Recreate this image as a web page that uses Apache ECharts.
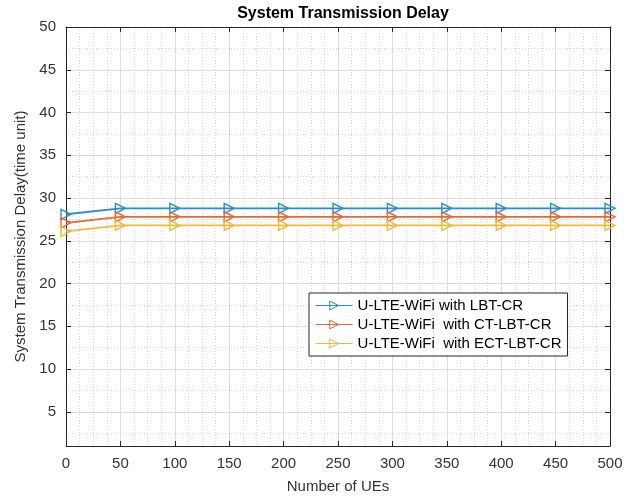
<!DOCTYPE html>
<html>
<head>
<meta charset="utf-8">
<script src="https://cdn.jsdelivr.net/npm/echarts@6/dist/echarts.min.js"></script>
<style>html,body{margin:0;padding:0;background:#fff;}#chart{width:636px;height:499px;}</style>
</head>
<body>
<div id="chart"></div>
<script>
const ues = [0, 50, 100, 150, 200, 250, 300, 350, 400, 450, 500];
const lbtCR = [28.1, 28.8, 28.8, 28.8, 28.8, 28.8, 28.8, 28.8, 28.8, 28.8, 28.8];
const ctLbtCR = [27.1, 27.8, 27.8, 27.8, 27.8, 27.8, 27.8, 27.8, 27.8, 27.8, 27.8];
const ectLbtCR = [26.1, 26.8, 26.8, 26.8, 26.8, 26.8, 26.8, 26.8, 26.8, 26.8, 26.8];
const yTicks = [5, 10, 15, 20, 25, 30, 35, 40, 45, 50];
const yMinorTicks = [2.5, 7.5, 12.5, 17.5, 22.5, 27.5, 32.5, 37.5, 42.5, 47.5];
const seriesNames = ['U-LTE-WiFi with LBT-CR', 'U-LTE-WiFi  with CT-LBT-CR', 'U-LTE-WiFi  with ECT-LBT-CR'];
const colors = ['#2f8ccb', '#e06a3a', '#edbb3a'];

const FONT = '"Liberation Sans", Arial, Helvetica, sans-serif';
const TRI = 'path://M0,0 L10,5 L0,10 Z';

function mk(name, vals, color) {
  return {
    name: name, type: 'line',
    data: ues.map((x, i) => [x, vals[i]]),
    symbol: TRI, symbolSize: [10, 10],
    lineStyle: { color: color, width: 1.8 },
    itemStyle: { color: 'rgba(255,255,255,0)', borderColor: color, borderWidth: 1.4 },
    color: color,
    emphasis: { disabled: true },
    z: 3
  };
}

const chart = echarts.init(document.getElementById('chart'), null, { renderer: 'canvas' });
const axisLineStyle = { color: '#262626', width: 1 };
const Y_MIN = 1, Y_MAX = 50;
chart.setOption({
  animation: false,
  backgroundColor: '#fff',
  title: {
    text: 'System Transmission Delay', left: 338, top: 1, textAlign: 'center',
    textStyle: { fontFamily: FONT, fontSize: 16, fontWeight: 'bold', color: '#000' }
  },
  legend: {
    orient: 'vertical', left: 309, top: 293,
    padding: [5, 6, 5, 6], itemGap: 4,
    itemWidth: 37, itemHeight: 11,
    backgroundColor: '#fff', borderColor: '#262626', borderWidth: 1,
    lineStyle: { width: 1.2 },
    itemStyle: { color: 'rgba(255,255,255,0)', borderWidth: 1 },
    textStyle: { fontFamily: FONT, fontSize: 15, color: '#000' },
    data: seriesNames
  },
  grid: { left: 66, right: 26, top: 27, bottom: 53, containLabel: false },
  xAxis: [{
    type: 'value', min: 0, max: 500, interval: 50,
    name: 'Number of UEs', nameLocation: 'middle', nameGap: 33,
    nameTextStyle: { fontFamily: FONT, fontSize: 15, color: '#333' },
    axisLine: { show: true, onZero: false, lineStyle: axisLineStyle },
    axisTick: { show: true, inside: true, length: 5, lineStyle: axisLineStyle },
    axisLabel: { fontFamily: FONT, fontSize: 15, color: '#333', margin: 10 },
    splitLine: { show: true, lineStyle: { color: '#dedede', width: 1 } },
    minorTick: { show: false, splitNumber: 4 },
    minorSplitLine: { show: true, lineStyle: { color: '#d6d6d6', width: 1, type: [1, 2] } }
  }, {
    type: 'value', min: 0, max: 500, interval: 50, position: 'top',
    axisLine: { show: true, onZero: false, lineStyle: axisLineStyle },
    axisTick: { show: true, inside: true, length: 5, lineStyle: axisLineStyle },
    axisLabel: { show: false }, splitLine: { show: false }
  }],
  yAxis: [{
    type: 'value', min: Y_MIN, max: Y_MAX,
    name: 'System Transmission Delay(time unit)', nameLocation: 'middle', nameGap: 36,
    nameTextStyle: { fontFamily: FONT, fontSize: 15, color: '#333' },
    axisLine: { show: true, onZero: false, lineStyle: axisLineStyle },
    axisTick: { show: true, inside: true, length: 5, lineStyle: axisLineStyle, customValues: yTicks },
    axisLabel: { fontFamily: FONT, fontSize: 15, color: '#333', margin: 10, customValues: yTicks },
    splitLine: { show: true, lineStyle: { color: '#dedede', width: 1 } }
  }, {
    type: 'value', min: Y_MIN, max: Y_MAX, position: 'right',
    axisLine: { show: true, onZero: false, lineStyle: axisLineStyle },
    axisTick: { show: true, inside: true, length: 5, lineStyle: axisLineStyle, customValues: yTicks },
    axisLabel: { show: false, customValues: yTicks }, splitLine: { show: false }
  }, {
    type: 'value', min: Y_MIN, max: Y_MAX, position: 'left',
    axisLine: { show: false },
    axisTick: { show: false, customValues: yMinorTicks },
    axisLabel: { show: false, customValues: yMinorTicks },
    splitLine: { show: true, lineStyle: { color: '#d6d6d6', width: 1, type: [1, 2] } }
  }],
  series: [
    mk(seriesNames[0], lbtCR, colors[0]),
    mk(seriesNames[1], ctLbtCR, colors[1]),
    mk(seriesNames[2], ectLbtCR, colors[2])
  ]
});
</script>
</body>
</html>
